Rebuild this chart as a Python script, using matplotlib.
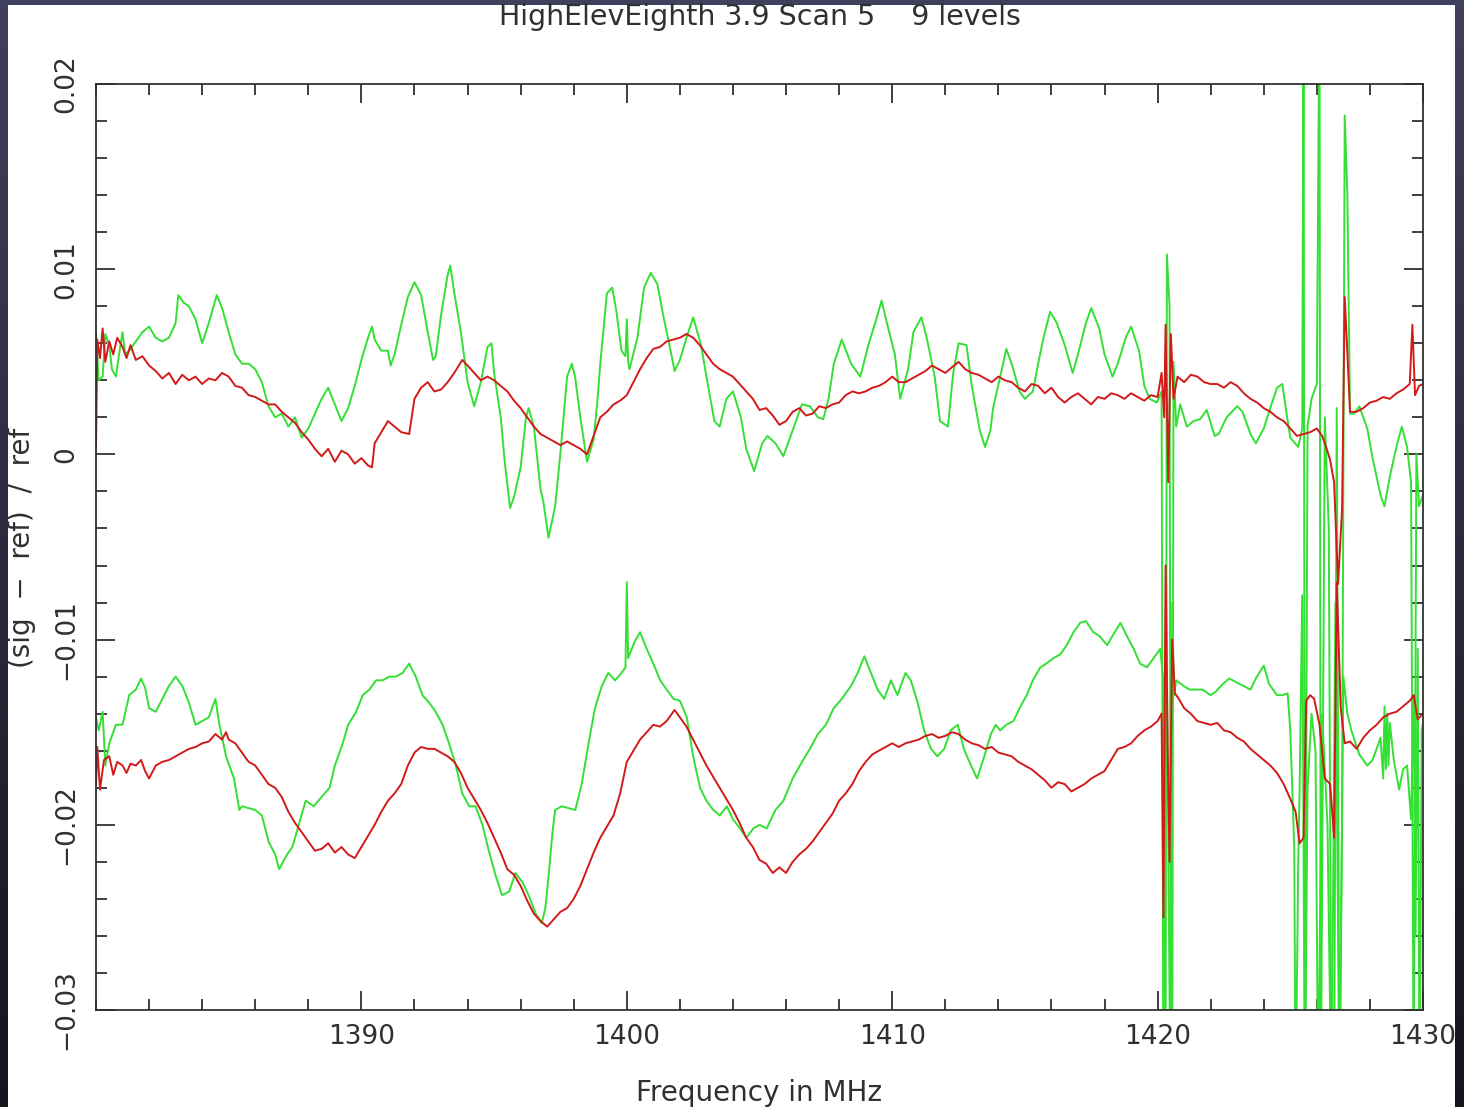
import numpy as np
import matplotlib.pyplot as plt
from matplotlib.ticker import MultipleLocator

# upper pair (values in units of 1e-3)
red_top_f = [1380.0, 1380.05, 1380.15, 1380.25, 1380.35, 1380.5, 1380.65, 1380.8, 1381.0, 1381.15,
             1381.3, 1381.5, 1381.75, 1382.0, 1382.25, 1382.5, 1382.75, 1383.0, 1383.25, 1383.5,
             1383.75, 1384.0, 1384.25, 1384.5, 1384.75, 1385.0, 1385.25, 1385.5, 1385.75, 1386.0,
             1386.25, 1386.5, 1386.75, 1387.0, 1387.25, 1387.5, 1387.75, 1388.0, 1388.25, 1388.5,
             1388.75, 1389.0, 1389.25, 1389.5, 1389.75, 1390.0, 1390.25, 1390.4, 1390.5, 1390.75,
             1391.0, 1391.25, 1391.5, 1391.8, 1392.0, 1392.25, 1392.5, 1392.75, 1393.0, 1393.25,
             1393.5, 1393.8, 1394.0, 1394.25, 1394.5, 1394.75, 1395.0, 1395.25, 1395.5, 1395.75,
             1396.0, 1396.25, 1396.5, 1396.75, 1397.0, 1397.25, 1397.5, 1397.75, 1398.0, 1398.25,
             1398.5, 1398.75, 1399.0, 1399.25, 1399.5, 1399.75, 1400.0, 1400.25, 1400.5, 1400.75,
             1401.0, 1401.25, 1401.5, 1401.75, 1402.0, 1402.25, 1402.5, 1402.75, 1403.0, 1403.25,
             1403.5, 1403.75, 1404.0, 1404.25, 1404.5, 1404.75, 1405.0, 1405.25, 1405.5, 1405.75,
             1406.0, 1406.25, 1406.5, 1406.75, 1407.0, 1407.25, 1407.5, 1407.75, 1408.0, 1408.25,
             1408.5, 1408.75, 1409.0, 1409.25, 1409.5, 1409.75, 1410.0, 1410.25, 1410.5, 1410.75,
             1411.0, 1411.25, 1411.5, 1411.75, 1412.0, 1412.25, 1412.5, 1412.75, 1413.0, 1413.25,
             1413.5, 1413.75, 1414.0, 1414.25, 1414.5, 1414.75, 1415.0, 1415.25, 1415.5, 1415.75,
             1416.0, 1416.25, 1416.5, 1416.75, 1417.0, 1417.25, 1417.5, 1417.75, 1418.0, 1418.25,
             1418.5, 1418.75, 1419.0, 1419.25, 1419.5, 1419.75, 1420.0, 1420.15, 1420.25, 1420.3,
             1420.4, 1420.5, 1420.6, 1420.75, 1421.0, 1421.25, 1421.5, 1421.75, 1422.0, 1422.25,
             1422.5, 1422.75, 1423.0, 1423.25, 1423.5, 1423.75, 1424.0, 1424.25, 1424.5, 1424.75,
             1425.0, 1425.25, 1425.5, 1425.75, 1426.0, 1426.2, 1426.35, 1426.5, 1426.65, 1426.8,
             1426.95, 1427.05, 1427.15, 1427.25, 1427.5, 1427.75, 1428.0, 1428.25, 1428.5, 1428.75,
             1429.0, 1429.25, 1429.5, 1429.6, 1429.7, 1429.85, 1430.0]
red_top_v = [0.3, 6.2, 5.2, 6.8, 5.0, 6.1, 5.4, 6.3, 5.8, 5.2,
             5.9, 5.1, 5.3, 4.8, 4.5, 4.1, 4.4, 3.8, 4.3, 4.0,
             4.2, 3.8, 4.1, 4.0, 4.4, 4.2, 3.7, 3.6, 3.2, 3.1,
             2.9, 2.7, 2.7, 2.3, 2.0, 1.7, 1.2, 0.8, 0.3, -0.1,
             0.3, -0.4, 0.2, 0.0, -0.5, -0.2, -0.6, -0.7, 0.6, 1.2,
             1.8, 1.5, 1.2, 1.1, 3.0, 3.6, 3.9, 3.4, 3.5, 3.9,
             4.4, 5.1, 4.8, 4.4, 4.0, 4.2, 4.0, 3.7, 3.4, 2.9,
             2.5, 2.0, 1.5, 1.1, 0.9, 0.7, 0.5, 0.7, 0.5, 0.3,
             0.0, 1.0, 2.0, 2.3, 2.7, 2.9, 3.2, 3.9, 4.6, 5.2,
             5.7, 5.8, 6.1, 6.2, 6.3, 6.5, 6.3, 5.9, 5.4, 4.9,
             4.6, 4.4, 4.2, 3.8, 3.4, 3.0, 2.4, 2.5, 2.1, 1.6,
             1.8, 2.3, 2.5, 2.1, 2.2, 2.6, 2.5, 2.7, 2.8, 3.2,
             3.4, 3.3, 3.4, 3.6, 3.7, 3.9, 4.2, 3.9, 3.9, 4.1,
             4.3, 4.5, 4.8, 4.6, 4.4, 4.7, 5.0, 4.6, 4.4, 4.3,
             4.1, 3.9, 4.2, 4.0, 3.9, 3.6, 3.4, 3.8, 3.7, 3.3,
             3.6, 3.1, 2.8, 3.1, 3.3, 3.0, 2.7, 3.1, 3.0, 3.3,
             3.2, 3.0, 3.3, 3.1, 2.9, 3.2, 3.1, 4.4, 2.0, 7.0,
             -1.5, 6.5, 3.0, 4.2, 3.9, 4.3, 4.2, 3.9, 3.8, 3.8,
             3.6, 3.9, 3.7, 3.3, 3.0, 2.8, 2.5, 2.3, 2.0, 1.8,
             1.4, 1.0, 1.1, 1.2, 1.4, 1.0, 0.4, -0.3, -1.5, -7.0,
             -3.0, 8.5, 5.5, 2.3, 2.3, 2.5, 2.8, 2.9, 3.1, 3.0,
             3.3, 3.5, 3.8, 7.0, 3.2, 3.7, 3.8]

green_top_f = [1380.0, 1380.1, 1380.25, 1380.35, 1380.5, 1380.6, 1380.75, 1380.9, 1381.0, 1381.1,
               1381.25, 1381.5, 1381.75, 1382.0, 1382.25, 1382.5, 1382.75, 1383.0, 1383.1, 1383.3,
               1383.5, 1383.75, 1384.0, 1384.25, 1384.55, 1384.75, 1385.0, 1385.25, 1385.5, 1385.75,
               1386.0, 1386.25, 1386.5, 1386.75, 1387.0, 1387.25, 1387.5, 1387.75, 1388.0, 1388.25,
               1388.5, 1388.75, 1389.0, 1389.25, 1389.5, 1389.75, 1390.0, 1390.25, 1390.4, 1390.5,
               1390.75, 1391.0, 1391.1, 1391.25, 1391.5, 1391.75, 1392.0, 1392.25, 1392.5, 1392.7,
               1392.8, 1393.0, 1393.25, 1393.35, 1393.5, 1393.75, 1394.0, 1394.25, 1394.5, 1394.75,
               1394.9, 1395.0, 1395.25, 1395.4, 1395.6, 1395.75, 1396.0, 1396.2, 1396.3, 1396.5,
               1396.75, 1396.85, 1397.05, 1397.3, 1397.5, 1397.75, 1397.93, 1398.05, 1398.25, 1398.5,
               1398.75, 1398.9, 1399.0, 1399.25, 1399.45, 1399.6, 1399.8, 1399.95, 1400.0, 1400.05,
               1400.1, 1400.4, 1400.65, 1400.9, 1401.15, 1401.4, 1401.65, 1401.8, 1402.0, 1402.25,
               1402.5, 1402.8, 1403.0, 1403.3, 1403.5, 1403.75, 1404.0, 1404.3, 1404.5, 1404.8,
               1405.1, 1405.3, 1405.6, 1405.9, 1406.25, 1406.6, 1406.9, 1407.2, 1407.4, 1407.6,
               1407.8, 1408.1, 1408.45, 1408.8, 1409.1, 1409.4, 1409.6, 1409.8, 1410.1, 1410.3,
               1410.6, 1410.8, 1411.1, 1411.3, 1411.6, 1411.8, 1412.1, 1412.3, 1412.5, 1412.8,
               1413.0, 1413.3, 1413.5, 1413.7, 1413.8, 1414.07, 1414.3, 1414.5, 1414.8, 1415.0,
               1415.3, 1415.5, 1415.7, 1415.95, 1416.2, 1416.5, 1416.8, 1417.0, 1417.3, 1417.5,
               1417.8, 1418.0, 1418.3, 1418.5, 1418.8, 1419.0, 1419.3, 1419.5, 1419.7, 1419.97,
               1420.15, 1420.22, 1420.3, 1420.35, 1420.45, 1420.5, 1420.55, 1420.6, 1420.7, 1420.85,
               1421.1, 1421.35, 1421.6, 1421.85, 1422.15, 1422.3, 1422.6, 1423.0, 1423.2, 1423.5,
               1423.7, 1424.0, 1424.2, 1424.5, 1424.7, 1424.85, 1425.0, 1425.3, 1425.45, 1425.5,
               1425.55, 1425.65, 1425.8, 1426.0, 1426.1, 1426.15, 1426.3, 1426.45, 1426.55, 1426.65,
               1426.75, 1426.85, 1426.95, 1427.05, 1427.15, 1427.25, 1427.4, 1427.6, 1427.9, 1428.1,
               1428.4, 1428.55, 1428.75, 1429.0, 1429.2, 1429.4, 1429.55, 1429.65, 1429.75, 1429.85,
               1430.0]
green_top_v = [6.6, 4.0, 4.2, 6.5, 5.9, 4.6, 4.2, 5.7, 6.6, 5.4,
               5.6, 6.1, 6.6, 6.9, 6.3, 6.1, 6.3, 7.1, 8.6, 8.2,
               8.0, 7.3, 6.0, 7.1, 8.6, 7.9, 6.6, 5.4, 4.9, 4.9,
               4.6, 3.9, 2.6, 2.0, 2.2, 1.5, 2.0, 0.9, 1.4, 2.2,
               3.0, 3.6, 2.7, 1.8, 2.5, 3.7, 5.1, 6.3, 6.9, 6.2,
               5.6, 5.6, 4.8, 5.4, 7.0, 8.5, 9.3, 8.6, 6.6, 5.1,
               5.3, 7.5, 9.7, 10.2, 8.7, 6.6, 3.9, 2.6, 3.9, 5.8,
               6.0, 4.4, 2.0, -0.4, -2.9, -2.3, -0.7, 2.0, 2.5, 1.5,
               -1.9, -2.5, -4.5, -2.8, 0.1, 4.2, 4.9, 4.2, 2.0, -0.4,
               0.8, 3.0, 4.9, 8.7, 9.0, 7.8, 5.6, 5.3, 7.3, 5.0,
               4.6, 6.3, 9.0, 9.8, 9.2, 7.3, 5.6, 4.5, 5.1, 6.3,
               7.4, 5.9, 4.2, 1.8, 1.5, 3.0, 3.4, 2.0, 0.3, -0.9,
               0.6, 1.0, 0.6, -0.1, 1.3, 2.7, 2.6, 2.0, 1.9, 3.0,
               4.9, 6.2, 4.9, 4.2, 5.9, 7.3, 8.3, 7.1, 5.4, 3.0,
               4.6, 6.6, 7.4, 6.3, 4.2, 1.8, 1.5, 4.4, 6.0, 5.9,
               3.7, 1.3, 0.4, 1.3, 2.5, 4.2, 5.7, 4.9, 3.4, 3.0,
               3.4, 4.9, 6.3, 7.7, 7.1, 5.9, 4.4, 5.4, 7.1, 7.9,
               6.8, 5.4, 4.2, 4.9, 6.3, 6.9, 5.6, 3.7, 3.0, 2.8,
               3.4, -35.0, -35.0, 10.8, 8.0, -35.0, -35.0, 5.0, 1.5, 2.7,
               1.5, 1.8, 1.9, 2.4, 1.0, 1.1, 2.0, 2.6, 2.3, 1.1,
               0.6, 1.4, 2.3, 3.6, 3.8, 2.3, 0.9, 0.4, 1.4, 25.0,
               -35.0, 1.5, 3.0, 3.8, 25.0, -35.0, 2.0, -4.0, -35.0, -35.0,
               2.5, -35.0, -20.0, 18.3, 14.0, 2.2, 2.2, 2.6, 1.4, -0.2,
               -2.2, -2.8, -1.2, 0.4, 1.5, 0.4, -1.5, -35.0, 0.0, -2.8,
               -2.2]

# lower pair (values in units of 1e-3)
red_bot_f = [1380.0, 1380.05, 1380.15, 1380.3, 1380.5, 1380.65, 1380.8, 1381.0, 1381.15, 1381.3,
             1381.5, 1381.7, 1381.85, 1382.0, 1382.25, 1382.5, 1382.75, 1383.0, 1383.25, 1383.5,
             1383.75, 1384.0, 1384.25, 1384.5, 1384.75, 1384.9, 1385.0, 1385.25, 1385.5, 1385.75,
             1386.0, 1386.25, 1386.5, 1386.75, 1387.0, 1387.25, 1387.5, 1387.75, 1388.0, 1388.25,
             1388.5, 1388.75, 1389.0, 1389.25, 1389.5, 1389.75, 1390.0, 1390.25, 1390.5, 1390.75,
             1391.0, 1391.25, 1391.5, 1391.75, 1392.0, 1392.25, 1392.5, 1392.75, 1393.0, 1393.25,
             1393.5, 1393.75, 1394.0, 1394.25, 1394.5, 1394.75, 1395.0, 1395.25, 1395.5, 1395.75,
             1396.0, 1396.25, 1396.5, 1396.75, 1397.0, 1397.25, 1397.5, 1397.75, 1398.0, 1398.25,
             1398.5, 1398.75, 1399.0, 1399.25, 1399.5, 1399.75, 1400.0, 1400.25, 1400.5, 1400.75,
             1401.0, 1401.25, 1401.5, 1401.8, 1402.0, 1402.25, 1402.5, 1402.75, 1403.0, 1403.25,
             1403.5, 1403.75, 1404.0, 1404.25, 1404.5, 1404.75, 1405.0, 1405.25, 1405.5, 1405.75,
             1406.0, 1406.25, 1406.5, 1406.75, 1407.0, 1407.25, 1407.5, 1407.75, 1408.0, 1408.25,
             1408.5, 1408.75, 1409.0, 1409.25, 1409.5, 1409.75, 1410.0, 1410.25, 1410.5, 1410.75,
             1411.0, 1411.25, 1411.5, 1411.75, 1412.0, 1412.25, 1412.5, 1412.75, 1413.0, 1413.25,
             1413.5, 1413.75, 1414.0, 1414.25, 1414.5, 1414.75, 1415.0, 1415.25, 1415.5, 1415.75,
             1416.0, 1416.25, 1416.5, 1416.75, 1417.0, 1417.25, 1417.5, 1417.75, 1418.0, 1418.25,
             1418.5, 1418.75, 1419.0, 1419.25, 1419.5, 1419.75, 1420.0, 1420.15, 1420.22, 1420.3,
             1420.38, 1420.45, 1420.55, 1420.65, 1420.8, 1421.0, 1421.25, 1421.5, 1421.75, 1422.0,
             1422.25, 1422.5, 1422.75, 1423.0, 1423.25, 1423.5, 1423.75, 1424.0, 1424.25, 1424.5,
             1424.75, 1425.0, 1425.2, 1425.35, 1425.5, 1425.6, 1425.75, 1425.9, 1426.1, 1426.3,
             1426.5, 1426.65, 1426.75, 1426.9, 1427.05, 1427.25, 1427.5, 1427.75, 1428.0, 1428.25,
             1428.5, 1428.75, 1429.0, 1429.25, 1429.5, 1429.65, 1429.8, 1430.0]
red_bot_v = [-17.8, -15.8, -18.1, -16.5, -16.3, -17.3, -16.6, -16.8, -17.2, -16.7,
             -16.8, -16.5, -17.1, -17.5, -16.8, -16.6, -16.5, -16.3, -16.1, -15.9,
             -15.8, -15.6, -15.5, -15.1, -15.4, -15.0, -15.4, -15.6, -16.1, -16.6,
             -16.8, -17.3, -17.8, -18.0, -18.5, -19.3, -19.9, -20.4, -20.9, -21.4,
             -21.3, -21.0, -21.5, -21.2, -21.6, -21.8, -21.2, -20.6, -20.0, -19.3,
             -18.7, -18.3, -17.8, -16.8, -16.1, -15.8, -15.9, -15.9, -16.1, -16.3,
             -16.6, -17.2, -18.0, -18.6, -19.2, -19.9, -20.7, -21.5, -22.4, -22.7,
             -23.3, -24.1, -24.8, -25.2, -25.5, -25.1, -24.7, -24.5, -24.0, -23.3,
             -22.4, -21.5, -20.7, -20.1, -19.5, -18.3, -16.6, -16.0, -15.4, -15.0,
             -14.6, -14.7, -14.4, -13.8, -14.2, -14.7, -15.4, -16.1, -16.8, -17.4,
             -18.0, -18.6, -19.2, -19.9, -20.7, -21.2, -21.9, -22.1, -22.6, -22.3,
             -22.6, -22.0, -21.6, -21.3, -20.9, -20.4, -19.9, -19.4, -18.7, -18.3,
             -17.8, -17.1, -16.6, -16.2, -16.0, -15.8, -15.6, -15.8, -15.6, -15.5,
             -15.4, -15.2, -15.1, -15.3, -15.2, -15.0, -15.1, -15.4, -15.6, -15.7,
             -15.9, -15.8, -16.1, -16.2, -16.3, -16.6, -16.8, -17.0, -17.3, -17.6,
             -18.0, -17.7, -17.8, -18.2, -18.0, -17.8, -17.5, -17.3, -17.1, -16.5,
             -15.9, -15.8, -15.6, -15.2, -14.9, -14.7, -14.4, -14.0, -25.0, -6.0,
             -16.0, -22.0, -10.0, -12.9, -13.2, -13.7, -14.0, -14.4, -14.5, -14.6,
             -14.5, -14.9, -15.0, -15.3, -15.5, -15.9, -16.2, -16.5, -16.8, -17.2,
             -17.8, -18.6, -19.3, -21.0, -20.7, -13.3, -13.0, -13.2, -14.6, -17.5,
             -17.8, -20.7, -6.9, -13.7, -15.6, -15.5, -15.9, -15.3, -14.9, -14.6,
             -14.2, -14.0, -13.9, -13.6, -13.3, -13.0, -14.3, -14.0]

green_bot_f = [1380.0, 1380.1, 1380.25, 1380.35, 1380.5, 1380.75, 1381.0, 1381.25, 1381.5, 1381.7,
               1381.85, 1382.0, 1382.25, 1382.5, 1382.75, 1383.0, 1383.25, 1383.5, 1383.75, 1384.0,
               1384.25, 1384.5, 1384.65, 1384.9, 1385.2, 1385.4, 1385.5, 1385.75, 1386.0, 1386.25,
               1386.5, 1386.75, 1386.9, 1387.2, 1387.4, 1387.7, 1387.9, 1388.2, 1388.5, 1388.8,
               1389.0, 1389.3, 1389.5, 1389.8, 1390.05, 1390.3, 1390.55, 1390.8, 1391.05, 1391.3,
               1391.55, 1391.8, 1392.05, 1392.3, 1392.55, 1392.8, 1393.06, 1393.3, 1393.56, 1393.8,
               1394.06, 1394.3, 1394.56, 1394.8, 1395.07, 1395.3, 1395.57, 1395.8, 1396.07, 1396.3,
               1396.57, 1396.8, 1396.93, 1397.05, 1397.2, 1397.3, 1397.55, 1397.8, 1398.06, 1398.3,
               1398.56, 1398.8, 1399.06, 1399.3, 1399.56, 1399.8, 1399.95, 1400.0, 1400.05, 1400.3,
               1400.5, 1400.75, 1401.0, 1401.26, 1401.5, 1401.76, 1402.0, 1402.26, 1402.5, 1402.76,
               1403.0, 1403.26, 1403.5, 1403.77, 1404.0, 1404.27, 1404.5, 1404.77, 1405.0, 1405.27,
               1405.6, 1405.9, 1406.25, 1406.6, 1406.9, 1407.2, 1407.5, 1407.8, 1408.1, 1408.45,
               1408.7, 1408.95, 1409.2, 1409.45, 1409.7, 1409.95, 1410.2, 1410.5, 1410.7, 1410.96,
               1411.2, 1411.46, 1411.7, 1411.96, 1412.2, 1412.47, 1412.7, 1412.97, 1413.2, 1413.47,
               1413.72, 1413.9, 1414.07, 1414.3, 1414.57, 1414.8, 1415.07, 1415.3, 1415.58, 1415.8,
               1416.08, 1416.33, 1416.58, 1416.83, 1417.08, 1417.3, 1417.58, 1417.8, 1418.1, 1418.3,
               1418.6, 1418.84, 1419.1, 1419.34, 1419.6, 1419.85, 1420.1, 1420.2, 1420.25, 1420.32,
               1420.4, 1420.48, 1420.55, 1420.62, 1420.7, 1420.98, 1421.2, 1421.5, 1421.7, 1422.0,
               1422.2, 1422.45, 1422.7, 1423.1, 1423.5, 1423.7, 1424.0, 1424.2, 1424.5, 1424.7,
               1424.9, 1425.0, 1425.15, 1425.2, 1425.3, 1425.35, 1425.45, 1425.55, 1425.65, 1425.8,
               1425.95, 1426.05, 1426.2, 1426.4, 1426.55, 1426.7, 1426.85, 1427.0, 1427.15, 1427.3,
               1427.6, 1427.9, 1428.1, 1428.4, 1428.5, 1428.55, 1428.6, 1428.65, 1428.7, 1428.75,
               1428.9, 1429.1, 1429.25, 1429.4, 1429.55, 1429.65, 1429.72, 1429.8, 1429.87, 1429.95,
               1430.0]
green_bot_v = [-14.2, -14.9, -13.9, -16.8, -15.6, -14.6, -14.6, -13.0, -12.7, -12.1,
               -12.6, -13.7, -13.9, -13.2, -12.5, -12.0, -12.5, -13.4, -14.6, -14.4,
               -14.2, -13.2, -14.6, -16.3, -17.5, -19.2, -19.0, -19.1, -19.2, -19.5,
               -20.9, -21.6, -22.4, -21.6, -21.2, -19.7, -18.7, -19.0, -18.5, -18.0,
               -16.8, -15.6, -14.6, -13.9, -13.0, -12.7, -12.2, -12.2, -12.0, -12.0,
               -11.8, -11.3, -12.0, -13.0, -13.4, -13.9, -14.6, -15.6, -16.8, -18.3,
               -19.0, -19.0, -20.0, -21.4, -22.8, -23.8, -23.6, -22.6, -23.1, -23.8,
               -24.8, -25.3, -24.5, -22.8, -20.4, -19.2, -19.0, -19.1, -19.2, -17.8,
               -15.6, -13.7, -12.5, -11.8, -12.2, -11.8, -11.5, -6.9, -11.0, -10.1,
               -9.6, -10.5, -11.3, -12.2, -12.7, -13.2, -13.3, -14.2, -16.3, -18.0,
               -18.7, -19.2, -19.5, -19.0, -19.7, -20.2, -20.7, -20.2, -20.0, -20.2,
               -19.2, -18.7, -17.5, -16.6, -15.9, -15.1, -14.6, -13.7, -13.2, -12.5,
               -11.8, -10.9, -11.8, -12.7, -13.2, -12.2, -13.0, -11.8, -12.2, -13.4,
               -14.9, -15.9, -16.3, -15.9, -14.9, -14.6, -15.9, -16.8, -17.5, -16.3,
               -15.1, -14.6, -14.9, -14.6, -14.4, -13.7, -13.0, -12.2, -11.5, -11.3,
               -11.0, -10.8, -10.3, -9.6, -9.1, -9.0, -9.6, -9.8, -10.3, -9.8,
               -9.1, -9.8, -10.5, -11.3, -11.5, -11.0, -10.5, -12.0, -35.0, -6.0,
               -20.0, -35.0, -8.0, -13.0, -12.2, -12.5, -12.7, -12.7, -12.7, -13.0,
               -12.8, -12.4, -12.1, -12.4, -12.7, -12.1, -11.4, -12.4, -13.0, -13.0,
               -12.9, -14.9, -21.3, -35.0, -22.0, -18.1, -7.6, -35.0, -18.0, -14.0,
               -16.0, -35.0, -14.0, -20.0, -35.0, -8.0, -35.0, -12.0, -14.0, -14.9,
               -16.2, -16.8, -16.5, -15.3, -17.5, -13.6, -17.0, -14.0, -16.8, -14.5,
               -16.5, -18.1, -17.0, -16.8, -19.7, -13.0, -26.0, -10.5, -35.0, -14.9,
               -14.5]

title = "HighElevEighth 3.9 Scan 5    9 levels"
x_ticks = [1390, 1400, 1410, 1420, 1430]
y_ticks = [-0.03, -0.02, -0.01, 0.0, 0.01, 0.02]
y_ticklabels = ["\u22120.03", "\u22120.02", "\u22120.01", "0", "0.01", "0.02"]

RED = "#d21a1a"
GREEN = "#33e033"
INK = "#303030"
FS = 19

fig = plt.figure(figsize=(14.64, 11.07), dpi=100)

# dark slide background, fading towards the bottom
bg = fig.add_axes([0, 0, 1, 1])
grad = np.linspace(0, 1, 256)[:, None]
top_c = np.array([0.25, 0.25, 0.37])
bot_c = np.array([0.08, 0.08, 0.11])
img = top_c[None, None, :] * (1 - grad[..., None]) + bot_c[None, None, :] * grad[..., None]
bg.imshow(img, aspect="auto", extent=[0, 1, 0, 1])
bg.axis("off")

# white page
page = fig.add_axes([8 / 1464, 0, 1447 / 1464, 1102 / 1107])
page.set_facecolor("white")
page.set_xticks([])
page.set_yticks([])
for s in page.spines.values():
    s.set_visible(False)

ax = fig.add_axes([96 / 1464, 97 / 1107, 1327 / 1464, 926 / 1107])
ax.set_facecolor("white")

ax.plot(green_top_f, np.array(green_top_v) * 1e-3, color=GREEN, lw=1.4)
ax.plot(green_bot_f, np.array(green_bot_v) * 1e-3, color=GREEN, lw=1.4)
ax.plot(red_top_f, np.array(red_top_v) * 1e-3, color=RED, lw=1.4)
ax.plot(red_bot_f, np.array(red_bot_v) * 1e-3, color=RED, lw=1.4)

ax.set_xlim(1380, 1430)
ax.set_ylim(-0.03, 0.02)
ax.set_xticks(x_ticks)
ax.set_xticklabels([str(v) for v in x_ticks])
ax.set_yticks(y_ticks)
ax.set_yticklabels(y_ticklabels, rotation=90, va="center")
ax.xaxis.set_minor_locator(MultipleLocator(2))
ax.yaxis.set_minor_locator(MultipleLocator(0.002))
ax.tick_params(which="both", direction="in", top=True, right=True,
               color=INK, labelcolor=INK, labelsize=FS, width=1.3)
ax.tick_params(which="major", length=14)
ax.tick_params(which="minor", length=8)
ax.tick_params(axis="x", pad=10)
ax.tick_params(axis="y", pad=12)
for s in ax.spines.values():
    s.set_linewidth(1.3)
    s.set_color(INK)

cx = (96 + 1423) / 2 / 1464
fig.text(cx, 1 - 17 / 1107, title, ha="center", va="center", fontsize=20.5, color=INK)
fig.text(cx, 1 - 1093 / 1107, "Frequency in MHz", ha="center", va="center", fontsize=20, color=INK)
fig.text(22 / 1464, 1 - 548 / 1107, "(sig  \u2212  ref)  /  ref", ha="center", va="center",
         rotation=90, fontsize=20, color=INK)

fig.savefig("out.png", dpi=100)
